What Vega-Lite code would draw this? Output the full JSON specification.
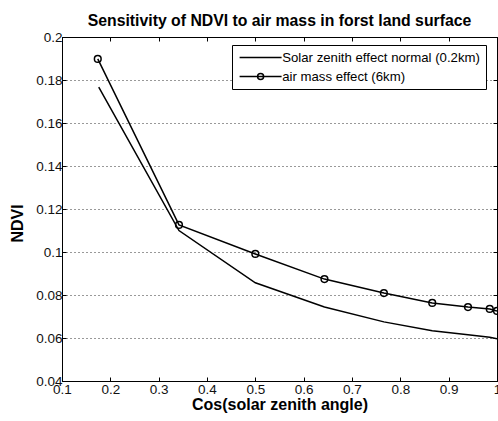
{
  "$schema": "https://vega.github.io/schema/vega-lite/v6.json",
  "autosize": "none",
  "width": 435,
  "height": 344,
  "padding": {"left": 62, "top": 37, "right": 1, "bottom": 40},
  "title": {"text": "Sensitivity of NDVI to air mass in forst land surface", "font": "Liberation Sans", "fontSize": 15.8, "fontWeight": "bold", "color": "black", "anchor": "middle", "offset": 0},
  "config": {
    "view": {"stroke": "black", "strokeWidth": 1},
    "font": "Liberation Sans"
  },
  "data": {"values": [
    {"series": "Solar zenith effect normal (0.2km)", "cosz": 0.176, "ndvi": 0.1767},
    {"series": "Solar zenith effect normal (0.2km)", "cosz": 0.342, "ndvi": 0.110},
    {"series": "Solar zenith effect normal (0.2km)", "cosz": 0.5, "ndvi": 0.0857},
    {"series": "Solar zenith effect normal (0.2km)", "cosz": 0.643, "ndvi": 0.0744},
    {"series": "Solar zenith effect normal (0.2km)", "cosz": 0.766, "ndvi": 0.0675},
    {"series": "Solar zenith effect normal (0.2km)", "cosz": 0.866, "ndvi": 0.0634},
    {"series": "Solar zenith effect normal (0.2km)", "cosz": 0.94, "ndvi": 0.0615},
    {"series": "Solar zenith effect normal (0.2km)", "cosz": 0.985, "ndvi": 0.0603},
    {"series": "Solar zenith effect normal (0.2km)", "cosz": 1.0, "ndvi": 0.0597},
    {"series": "air mass effect (6km)", "cosz": 0.174, "ndvi": 0.1898},
    {"series": "air mass effect (6km)", "cosz": 0.342, "ndvi": 0.1126},
    {"series": "air mass effect (6km)", "cosz": 0.5, "ndvi": 0.0991},
    {"series": "air mass effect (6km)", "cosz": 0.643, "ndvi": 0.0874},
    {"series": "air mass effect (6km)", "cosz": 0.766, "ndvi": 0.0809},
    {"series": "air mass effect (6km)", "cosz": 0.866, "ndvi": 0.0763},
    {"series": "air mass effect (6km)", "cosz": 0.94, "ndvi": 0.0744},
    {"series": "air mass effect (6km)", "cosz": 0.985, "ndvi": 0.0735},
    {"series": "air mass effect (6km)", "cosz": 1.0, "ndvi": 0.0726}
  ]},
  "layer": [
    {
      "mark": {"type": "line", "strokeWidth": 1.5, "clip": true},
      "encoding": {
        "x": {"field": "cosz", "type": "quantitative", "scale": {"domain": [0.1, 1], "nice": false, "zero": false},
          "axis": {"orient": "bottom", "title": "Cos(solar zenith angle)", "values": [0.1,0.2,0.3,0.4,0.5,0.6,0.7,0.8,0.9,1], "format": "~g", "grid": false, "tickSize": -4, "tickColor": "black", "domainColor": "black", "labelFont": "Liberation Sans", "labelFontSize": 13.5, "labelColor": "#111", "labelPadding": 5, "titleFont": "Liberation Sans", "titleFontSize": 16, "titleFontWeight": "bold", "titleColor": "black", "titlePadding": 1, "labelFlush": false, "labelOverlap": false}},
        "y": {"field": "ndvi", "type": "quantitative", "scale": {"domain": [0.04, 0.2], "nice": false, "zero": false},
          "axis": {"orient": "left", "title": "NDVI", "values": [0.04,0.06,0.08,0.1,0.12,0.14,0.16,0.18,0.2], "format": "~g", "grid": true, "gridDash": [1, 3], "gridColor": "#333", "gridOpacity": 1, "tickSize": -4, "tickColor": "black", "domainColor": "black", "labelFont": "Liberation Sans", "labelFontSize": 13.5, "labelColor": "#111", "labelPadding": 4, "titleFont": "Liberation Sans", "titleFontSize": 16, "titleFontWeight": "bold", "titleColor": "black", "titlePadding": 10, "titleY": 186, "labelFlush": false, "labelOverlap": false}},
        "color": {"field": "series", "type": "nominal", "scale": {"range": ["black", "black"]},
          "legend": {"title": null, "orient": "none", "legendX": 170, "legendY": 8, "strokeColor": "black", "fillColor": "white", "padding": 6, "labelFont": "Liberation Sans", "labelFontSize": 13.2, "labelColor": "black", "labelLimit": 400, "labelOffset": 15, "symbolOffset": 16, "rowPadding": 5, "symbolSize": 100, "symbolStrokeWidth": 1.5,
            "encode": {"symbols": {"update": {
              "shape": {"signal": "datum.value === 'air mass effect (6km)' ? 'M-4.2,0L4.2,0M0.6,0A0.6,0.6,0,1,1,-0.6,0A0.6,0.6,0,1,1,0.6,0' : 'M-4.2,0L4.2,0'"},
              "fill": {"value": "transparent"},
              "stroke": {"value": "black"},
              "size": {"value": 100}
            }}}}},
        "detail": {"field": "series"}
      }
    },
    {
      "transform": [{"filter": "datum.series === 'air mass effect (6km)'"}],
      "mark": {"type": "point", "shape": "circle", "filled": false, "size": 45, "strokeWidth": 1.5, "color": "black", "opacity": 1, "clip": false},
      "encoding": {
        "x": {"field": "cosz", "type": "quantitative", "axis": {"orient": "top", "title": null, "labels": false, "values": [0.1,0.2,0.3,0.4,0.5,0.6,0.7,0.8,0.9,1], "tickSize": -4, "tickColor": "black", "domainColor": "black", "grid": false}},
        "y": {"field": "ndvi", "type": "quantitative", "axis": {"orient": "right", "title": null, "labels": false, "values": [0.04,0.06,0.08,0.1,0.12,0.14,0.16,0.18,0.2], "tickSize": -4, "tickColor": "black", "domainColor": "black", "grid": false}}
      }
    }
  ],
  "resolve": {"axis": {"x": "independent", "y": "independent"}}
}
